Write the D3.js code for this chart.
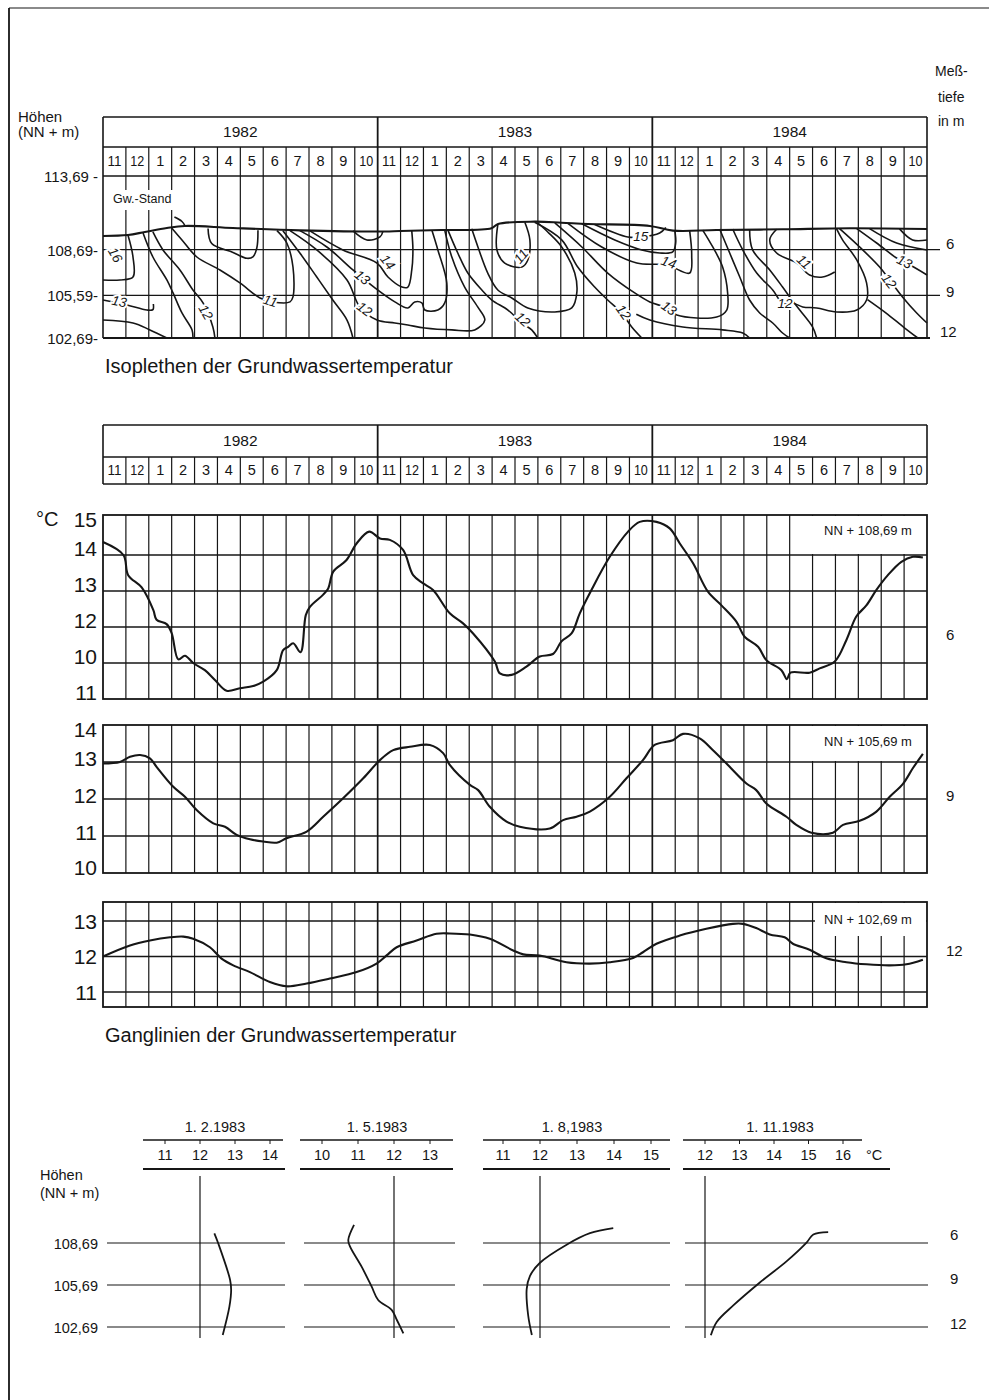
<!DOCTYPE html>
<html><head><meta charset="utf-8">
<script src="https://cdn.jsdelivr.net/npm/d3@7"></script>
<style>
body{margin:0;background:#fff}
svg{display:block}
text{font-family:"Liberation Sans",Arial,Helvetica,sans-serif;fill:#151515}
</style>
</head><body>
<svg id="c" width="989" height="1400"></svg>
<script>
// ---------------- DATA ----------------
const years = ["1982", "1983", "1984"];
const months = ["11","12","1","2","3","4","5","6","7","8","9","10"];
const elevTicks = [113.69, 108.69, 105.59, 102.69];
const elevTickLabels = ["113,69 -", "108,69-", "105,59-", "102,69-"];
const depthLabels = ["6", "9", "12"];

// groundwater surface (month index from Nov 1981, elevation NN+m)
const gwSurface = [[0,109.62],[1.09,109.68],[1.83,109.89],[2.79,110.16],[3.58,110.3],[5.68,110.16],[8.6,110.0],[12.3,109.92],[13.0,109.96],[14.79,110.02],[16.97,110.14],[17.26,110.43],[18.86,110.59],[20.03,110.52],[21.19,110.43],[23.89,110.3],[24.9,109.98],[26.8,110.02],[29.71,110.07],[32.62,110.14],[36,110.09]];

// isopleth lines [month, elevation]
const isoLines = [
 [[1.09,109.68],[1.31,108.19],[1.31,106.83],[0.74,106.63],[0,106.63]],
 [[0,105.27],[1.05,104.93],[1.92,104.59],[2.18,104.62],[2.2,105.0]],
 [[0,103.91],[1.31,103.71],[2.05,103.24],[2.79,102.69]],
 [[1.75,109.82],[2.18,108.19],[2.79,106.63],[3.06,105.75],[3.45,104.39],[3.89,103.24],[3.93,102.69]],
 [[2.18,109.89],[2.62,108.67],[3.36,107.31],[3.93,105.95],[4.37,105.07],[4.80,103.44],[4.89,102.69]],
 [[3.0,110.16],[3.45,109.35],[4.10,108.19],[5.11,107.31],[5.98,106.43],[6.86,105.41],[7.42,105.14],[8.17,105.14],[8.30,105.48],[8.30,107.51],[8.03,109.14],[7.60,109.98]],
 [[4.59,110.12],[4.75,109.1],[5.68,108.5],[6.29,108.1],[6.55,108.2],[6.72,108.8],[6.77,110.0]],
 [[7.86,109.98],[8.60,108.46],[9.34,106.83],[10.04,105.27],[10.66,103.91],[10.92,102.69]],
 [[8.17,109.98],[9.34,108.67],[10.66,106.63],[11.22,104.80],[11.97,103.91],[12.75,103.71],[13.32,103.57],[14.06,103.37],[15.24,103.24],[16.24,103.24],[16.68,103.91],[16.37,104.8],[15.80,106.15],[15.24,108.19],[14.93,110.02]],
 [[8.60,109.98],[9.78,108.87],[10.92,107.31],[11.88,106.09],[12.75,105.14],[13.32,104.73],[13.62,105.14],[13.93,105.07],[14.06,104.59],[14.63,104.59],[14.93,105.07],[15.02,106.43],[14.63,108.67],[14.37,110.0]],
 [[9.04,109.96],[10.48,108.67],[11.97,107.78],[12.45,106.83],[13.06,106.15],[13.32,106.15],[13.49,107.31],[13.54,108.67],[13.49,109.96]],
 [[10.92,109.96],[11.53,109.35],[12.10,109.55],[12.23,109.93]],
 [[15.06,110.05],[15.50,108.46],[15.94,107.10],[16.55,105.95],[16.99,105.27],[17.69,104.59],[18.30,103.71],[18.73,103.24],[18.99,102.69]],
 [[16.11,110.1],[16.38,108.87],[16.81,107.10],[17.25,105.95],[17.86,105.41],[18.56,104.73],[19.74,104.46],[20.48,104.73],[20.70,105.75],[20.61,107.10],[20.04,108.87],[19.43,109.89],[19.00,110.5]],
 [[17.25,110.4],[17.21,108.67],[17.55,107.78],[18.30,107.51],[18.56,107.99],[18.65,109.35],[18.43,110.55]],
 [[18.86,110.55],[20.04,109.35],[20.74,107.51],[21.48,106.15],[22.05,105.27],[22.66,104.39],[23.10,103.44],[23.54,102.69]],
 [[19.74,110.5],[20.92,108.87],[22.05,107.10],[23.23,105.75],[23.89,105.14],[24.63,104.73],[25.07,104.25],[26.81,104.12],[27.25,104.59],[27.29,105.75],[27.07,107.51],[26.64,108.87],[26.20,110.02]],
 [[20.31,110.48],[21.79,108.87],[23.32,107.78],[24.63,107.65],[25.63,107.10],[25.72,108.33],[25.63,109.98]],
 [[20.92,110.45],[22.36,109.35],[23.54,108.67],[24.32,108.46],[24.89,108.53],[25.02,109.14],[24.98,110.0]],
 [[21.48,110.4],[22.93,109.55],[23.54,109.55],[24.32,109.82],[24.59,110.2]],
 [[23.3,104.3],[23.89,103.91],[25.33,103.44],[27.07,103.24],[27.95,103.03],[28.25,102.69]],
 [[26.94,110.09],[27.38,108.46],[27.82,106.83],[28.25,105.27],[28.69,104.39],[29.26,103.71],[29.69,103.03],[30.00,102.69]],
 [[27.51,110.09],[27.95,108.67],[28.56,107.10],[29.26,105.95],[29.69,105.07],[30.13,105.07],[30.57,104.80],[31.18,104.73],[32.05,104.46],[32.93,104.59],[33.36,105.27],[33.36,106.43],[32.93,107.99],[32.31,109.35],[32.05,110.1]],
 [[28.25,110.09],[28.38,108.67],[29.13,107.31],[29.69,106.15],[30.00,105.48],[30.44,104.59],[31.00,103.44],[31.18,102.69]],
 [[29.43,110.07],[29.13,109.35],[29.43,108.46],[30.31,107.78],[30.87,106.97],[31.44,106.83],[31.97,107.17]],
 [[32.18,110.12],[33.06,108.87],[33.93,107.51],[34.37,106.63],[34.93,105.48],[35.55,104.39],[36,103.71]],
 [[32.93,110.12],[33.80,109.14],[34.67,108.12],[35.11,107.78],[36,106.97]],
 [[33.49,110.12],[34.67,109.14],[36,108.67]],
 [[34.80,110.1],[35.37,109.35],[36,109.35]],
 [[33.4,105.3],[34.2,104.4],[35.0,103.4],[35.6,102.69]],
 [[3.12,110.9],[3.45,110.6],[3.58,110.32]]
];
// [text, line index, month, elevation]
const isoLabels = [
 ["16",0,0.5,108.3],["13",1,0.7,105.1],["12",4,4.45,104.4],["11",5,7.3,105.14],
 ["14",10,12.4,107.8],["13",9,11.3,106.75],["12",8,11.4,104.6],
 ["11",14,18.3,108.2],["12",12,18.3,103.9],["12",15,22.7,104.4],["15",19,23.5,109.55],
 ["14",17,24.7,107.75],["13",16,24.7,104.65],["11",24,30.6,107.8],["12",22,29.8,104.95],
 ["13",26,35.0,107.8],["12",25,34.3,106.5]
];

// Ganglinien [month, °C]
const gang6 = [[0,14.36],[0.89,14.0],[1.10,13.44],[1.69,13.1],[2.20,12.47],[2.34,12.2],[2.78,12.08],[3.00,11.83],[3.29,11.1],[3.58,11.2],[3.94,11.0],[4.45,10.8],[4.89,10.53],[5.40,10.23],[5.98,10.3],[6.56,10.36],[7.00,10.48],[7.59,10.8],[7.87,11.36],[8.09,11.45],[8.31,11.55],[8.63,11.3],[8.86,12.33],[9.04,12.56],[9.62,12.9],[9.84,13.07],[10.06,13.54],[10.64,13.86],[11.08,14.32],[11.63,14.65],[12.10,14.46],[12.53,14.42],[13.11,14.14],[13.55,13.44],[13.99,13.21],[14.42,13.03],[15.15,12.38],[15.73,12.1],[16.17,11.82],[17.12,11.04],[17.34,10.71],[17.85,10.67],[18.50,10.9],[19.08,11.18],[19.66,11.25],[20.03,11.6],[20.47,11.82],[20.83,12.38],[21.34,13.03],[22.14,13.95],[22.94,14.65],[23.45,14.92],[24.18,14.92],[24.76,14.74],[25.20,14.32],[25.78,13.77],[26.43,12.98],[27.02,12.6],[27.67,12.15],[28.03,11.73],[28.62,11.45],[28.98,11.08],[29.64,10.8],[29.88,10.55],[30.03,10.73],[30.87,10.73],[31.31,10.85],[31.97,11.04],[32.48,11.64],[32.91,12.29],[33.35,12.6],[33.79,13.03],[34.29,13.44],[34.88,13.81],[35.38,13.95],[35.82,13.93]];
const gang9 = [[0,12.96],[0.74,13.0],[1.18,13.14],[1.62,13.19],[2.05,13.1],[2.34,12.87],[3.07,12.33],[3.58,12.06],[4.09,11.7],[4.82,11.34],[5.33,11.25],[5.84,11.03],[6.42,10.91],[7.00,10.85],[7.59,10.82],[8.02,10.94],[8.90,11.12],[9.62,11.52],[10.49,12.02],[11.37,12.56],[12.10,13.05],[12.68,13.32],[13.41,13.41],[14.28,13.46],[14.86,13.24],[15.15,12.92],[16.03,12.38],[16.39,12.24],[16.90,11.79],[17.63,11.39],[18.21,11.25],[19.52,11.2],[20.10,11.43],[20.69,11.52],[21.27,11.66],[22.14,12.06],[22.87,12.56],[23.59,13.05],[24.10,13.46],[24.90,13.59],[25.34,13.76],[26.07,13.64],[26.65,13.32],[27.24,12.96],[28.11,12.42],[28.54,12.24],[28.98,11.88],[29.86,11.52],[30.29,11.3],[30.95,11.09],[31.89,11.09],[32.33,11.3],[33.06,11.41],[33.79,11.66],[34.37,12.06],[34.95,12.41],[35.38,12.83],[35.82,13.22]];
const gang12 = [[0,12.0],[1.18,12.31],[2.05,12.45],[2.93,12.54],[3.51,12.56],[3.94,12.5],[4.67,12.26],[5.18,11.94],[5.69,11.75],[6.42,11.56],[7.29,11.28],[8.02,11.16],[8.90,11.24],[9.91,11.38],[11.08,11.56],[11.95,11.8],[12.39,12.03],[12.83,12.26],[13.70,12.45],[14.57,12.64],[15.15,12.65],[16.03,12.62],[16.90,12.5],[17.92,12.17],[18.36,12.06],[19.08,12.03],[20.25,11.84],[21.27,11.8],[22.14,11.84],[23.16,11.96],[23.59,12.12],[24.18,12.36],[25.20,12.59],[26.36,12.78],[27.52,12.92],[27.96,12.92],[28.54,12.8],[29.13,12.62],[29.78,12.54],[30.14,12.36],[30.87,12.19],[31.60,11.95],[32.48,11.84],[33.36,11.78],[34.37,11.75],[35.10,11.78],[35.82,11.91]];
const gangTicks1 = [15,14,13,12,11,10];
const gangTickLabels1 = ["15","14","13","12","10","11"];
const gangTicks2 = [14,13,12,11,10];
const gangTicks3 = [13,12,11];
const gangNames = ["NN + 108,69 m", "NN + 105,69 m", "NN + 102,69 m"];

// vertical profiles [elevation, °C]
const profDates = ["1. 2.1983", "1. 5.1983", "1. 8,1983", "1. 11.1983"];
const profTicks = [[11,12,13,14],[10,11,12,13],[11,12,13,14,15],[12,13,14,15,16]];
const profFeb = [[109.38,12.41],[108.67,12.52],[106.05,12.86],[105.33,12.89],[104.14,12.84],[102.12,12.65]];
const profMay = [[109.98,10.89],[108.9,10.73],[108.43,10.78],[107.0,11.1],[105.57,11.38],[104.62,11.56],[103.9,11.94],[103.19,12.08],[102.24,12.26]];
const profAug = [[109.75,13.98],[109.39,13.35],[108.57,12.72],[107.28,12.0],[106.34,11.73],[105.40,11.64],[103.53,11.68],[102.12,11.78]];
const profNov = [[109.47,15.57],[109.3,15.14],[108.74,14.95],[107.4,14.37],[105.87,13.59],[104.23,12.82],[103.05,12.34],[102.1,12.17]];
const profElev = [108.69, 105.69, 102.69];
const profElevLabels = ["108,69", "105,69", "102,69"];

// ---------------- DRAWING ----------------
const svg = d3.select("#c");
const INK = "#161616";
const X0 = 103, X1 = 927;
const x = d3.scaleLinear().domain([0, 36]).range([X0, X1]);
const smooth = d3.curveCatmullRom.alpha(0.5);

function hline(g, xa, xb, y, w) {
  g.append("line").attr("x1", xa).attr("x2", xb).attr("y1", y).attr("y2", y)
    .attr("stroke", INK).attr("stroke-width", w || 1.3);
}
function vline(g, xx, ya, yb, w) {
  g.append("line").attr("x1", xx).attr("x2", xx).attr("y1", ya).attr("y2", yb)
    .attr("stroke", INK).attr("stroke-width", w || 1.3);
}
function txt(g, s, xx, yy, size, anchor) {
  return g.append("text").attr("x", xx).attr("y", yy).attr("font-size", size)
    .attr("text-anchor", anchor || "start").attr("dominant-baseline", "middle").text(s);
}

// page border (scan edge)
hline(svg, 9, 989, 8, 1.2);
vline(svg, 9, 8, 1400, 1.8);

// header block: years + months
function header(yTop, yMid, yBot, sepBottom) {
  const g = svg.append("g");
  hline(g, X0, X1, yTop, 1.6);
  hline(g, X0, X1, yMid, 1.4);
  hline(g, X0, X1, yBot, 1.4);
  years.forEach((yr, i) => {
    txt(g, yr, x(i * 12 + 6), (yTop + yMid) / 2 + 1, 15.5, "middle");
  });
  for (let i = 0; i < 36; i++) {
    txt(g, months[i % 12], x(i + 0.5), (yMid + yBot) / 2 + 1, 14.5, "middle")
      .attr("textLength", months[i % 12].length > 1 ? 14 : null)
      .attr("lengthAdjust", "spacingAndGlyphs");
    if (i > 0 && i % 12 !== 0) vline(g, x(i), yMid, yBot, 1.2);
  }
  [12, 24].forEach(m => vline(g, x(m), yTop, sepBottom, 1.8));
  vline(g, X0, yTop, sepBottom, 1.6);
  vline(g, X1, yTop, sepBottom, 1.6);
}

// ---------- ISOPLETHEN ----------
const yE = d3.scaleLinear().domain([102.69, 113.69]).range([338, 176]);
header(117, 147, 176, 338);
{
  const g = svg.append("g");
  for (let i = 1; i < 36; i++) if (i % 12) vline(g, x(i), 176, 338, 1.2);
  hline(g, X0, 940, yE(108.69), 1.3);
  hline(g, X0, 940, yE(105.59), 1.3);
  hline(g, X0, 930, yE(102.69), 1.8);
  elevTicks.forEach((v, i) => txt(g, elevTickLabels[i], 98, yE(v) + 2, 15, "end"));
  txt(g, "Höhen", 18, 118, 15);
  txt(g, "(NN + m)", 18, 133, 15);
  txt(g, "Meß-", 935, 72, 14);
  txt(g, "tiefe", 938, 98, 14);
  txt(g, "in m", 938, 122, 14);
  txt(g, depthLabels[0], 946, yE(108.69) - 5, 15);
  txt(g, depthLabels[1], 946, yE(105.59) - 2, 15);
  txt(g, depthLabels[2], 940, yE(102.69) - 5, 15);
  g.append("rect").attr("x", 110).attr("y", 190).attr("width", 80).attr("height", 20).attr("fill", "#fff");
  txt(g, "Gw.-Stand", 113, 200, 12.5);

  const lineE = d3.line().x(d => x(d[0])).y(d => yE(d[1])).curve(smooth);
  g.append("path").attr("d", lineE(gwSurface)).attr("fill", "none")
    .attr("stroke", INK).attr("stroke-width", 2.1);
  isoLines.forEach(l => g.append("path").attr("d", lineE(l)).attr("fill", "none")
    .attr("stroke", INK).attr("stroke-width", 1.6));

  isoLabels.forEach(([s, li, m, e]) => {
    const px = x(m), py = yE(e);
    const pts = isoLines[li].map(d => [x(d[0]), yE(d[1])]);
    let best = 0, bd = 1e9;
    for (let k = 0; k < pts.length - 1; k++) {
      const mx = (pts[k][0] + pts[k + 1][0]) / 2, my = (pts[k][1] + pts[k + 1][1]) / 2;
      const dd = (mx - px) ** 2 + (my - py) ** 2;
      if (dd < bd) { bd = dd; best = k; }
    }
    let ang = Math.atan2(pts[best + 1][1] - pts[best][1], pts[best + 1][0] - pts[best][0]) * 180 / Math.PI;
    if (ang > 90) ang -= 180; if (ang < -90) ang += 180;
    ang = Math.max(-60, Math.min(60, ang));
    g.append("text").attr("x", px).attr("y", py).attr("font-size", 13.5)
      .attr("font-style", "italic").attr("text-anchor", "middle").attr("dominant-baseline", "middle")
      .attr("transform", `rotate(${ang},${px},${py})`)
      .attr("stroke", "#fff").attr("stroke-width", 4).attr("paint-order", "stroke")
      .text(s);
  });
  g.append("text").attr("x", 105).attr("y", 368).attr("font-size", 20)
    .attr("dominant-baseline", "middle").text("Isoplethen der Grundwassertemperatur");
}

// ---------- GANGLINIEN ----------
header(425, 457, 484, 484);
const charts = [
  {data: gang6, top: 515, bot: 699, dom: [10, 15], rng: [699, 519], grid: [11,12,13,14], ticks: gangTicks1, labels: gangTickLabels1, boxBot: 555, boxX: 795, labY: 532, depth: depthLabels[0], dY: 636, lOff: -5},
  {data: gang9, top: 725, bot: 873, dom: [10, 14], rng: [873, 725], grid: [11,12,13], ticks: gangTicks2, labels: gangTicks2.map(String), boxBot: 762, boxX: 795, labY: 743, depth: depthLabels[1], dY: 797, lOff: -2},
  {data: gang12, top: 902, bot: 1007, dom: [11, 13], rng: [992, 921], grid: [11,12,13], ticks: gangTicks3, labels: gangTicks3.map(String), boxBot: 937, boxX: 815, labY: 921, depth: depthLabels[2], dY: 952, lOff: 2}
];
charts.forEach((c, ci) => {
  const g = svg.append("g");
  const y = d3.scaleLinear().domain(c.dom).range(c.rng);
  for (let i = 1; i < 36; i++) vline(g, x(i), c.top, c.bot, i % 12 ? 1.2 : 1.7);
  c.grid.forEach(v => hline(g, X0, X1, y(v), 1.3));
  g.append("rect").attr("x", c.boxX).attr("y", c.top + 1).attr("width", X1 - c.boxX - 1)
    .attr("height", c.boxBot - c.top - 2).attr("fill", "#fff");
  txt(g, gangNames[ci], 868, c.labY, 13, "middle");
  const line = d3.line().x(d => x(d[0])).y(d => y(d[1])).curve(smooth);
  g.append("path").attr("d", line(c.data)).attr("fill", "none")
    .attr("stroke", INK).attr("stroke-width", 2.1);
  g.append("rect").attr("x", X0).attr("y", c.top).attr("width", X1 - X0).attr("height", c.bot - c.top)
    .attr("fill", "none").attr("stroke", INK).attr("stroke-width", 1.8);
  c.ticks.forEach((v, i) => {
    const yy = Math.max(c.top + 6, Math.min(c.bot - 4, y(v) + c.lOff));
    txt(g, c.labels[i], 97, yy, 21, "end");
  });
  txt(g, c.depth, 946, c.dY, 15);
});
txt(svg, "°C", 36, 521, 20);
svg.append("text").attr("x", 105).attr("y", 1037).attr("font-size", 20)
  .attr("dominant-baseline", "middle").text("Ganglinien der Grundwassertemperatur");

// ---------- PROFILES ----------
const yP = d3.scaleLinear().domain([102.69, 108.69]).range([1327, 1243]);
const panels = [
  {data: profFeb, x12: 200, k: 35, l0: 143, l1: 283, l2: 285, h0: 107, h1: 285, tc: 215},
  {data: profMay, x12: 394, k: 36, l0: 300, l1: 453, l2: 453, h0: 304, h1: 455, tc: 377},
  {data: profAug, x12: 540, k: 37, l0: 483, l1: 670, l2: 670, h0: 483, h1: 670, tc: 572},
  {data: profNov, x12: 705, k: 34.5, l0: 683, l1: 862, l2: 890, h0: 685, h1: 928, tc: 780}
];
panels.forEach((p, pi) => {
  const g = svg.append("g");
  const xt = d3.scaleLinear().domain([12, 13]).range([p.x12, p.x12 + p.k]);
  txt(g, profDates[pi], p.tc, 1128, 14.5, "middle");
  hline(g, p.l0, p.l1, 1140, 1.5);
  hline(g, p.l0, p.l2, 1169, 1.8);
  profTicks[pi].forEach(t => {
    vline(g, xt(t), 1140, 1144, 1);
    txt(g, String(t), xt(t), 1156, 14.5, "middle");
  });
  profElev.forEach(e => hline(g, p.h0, p.h1, yP(e), 1.2));
  vline(g, xt(12), 1176, 1338, 1.2);
  const line = d3.line().x(d => xt(d[1])).y(d => yP(d[0])).curve(smooth);
  g.append("path").attr("d", line(p.data)).attr("fill", "none")
    .attr("stroke", INK).attr("stroke-width", 1.8);
});
txt(svg, "°C", 866, 1156, 14.5);
txt(svg, "Höhen", 40, 1176, 14.5);
txt(svg, "(NN + m)", 40, 1194, 14.5);
profElev.forEach((e, i) => txt(svg, profElevLabels[i], 98, yP(e) + 2, 14.5, "end"));
[1236, 1280, 1325].forEach((yy, i) => txt(svg, depthLabels[i], 950, yy, 15));
</script>
</body></html>
